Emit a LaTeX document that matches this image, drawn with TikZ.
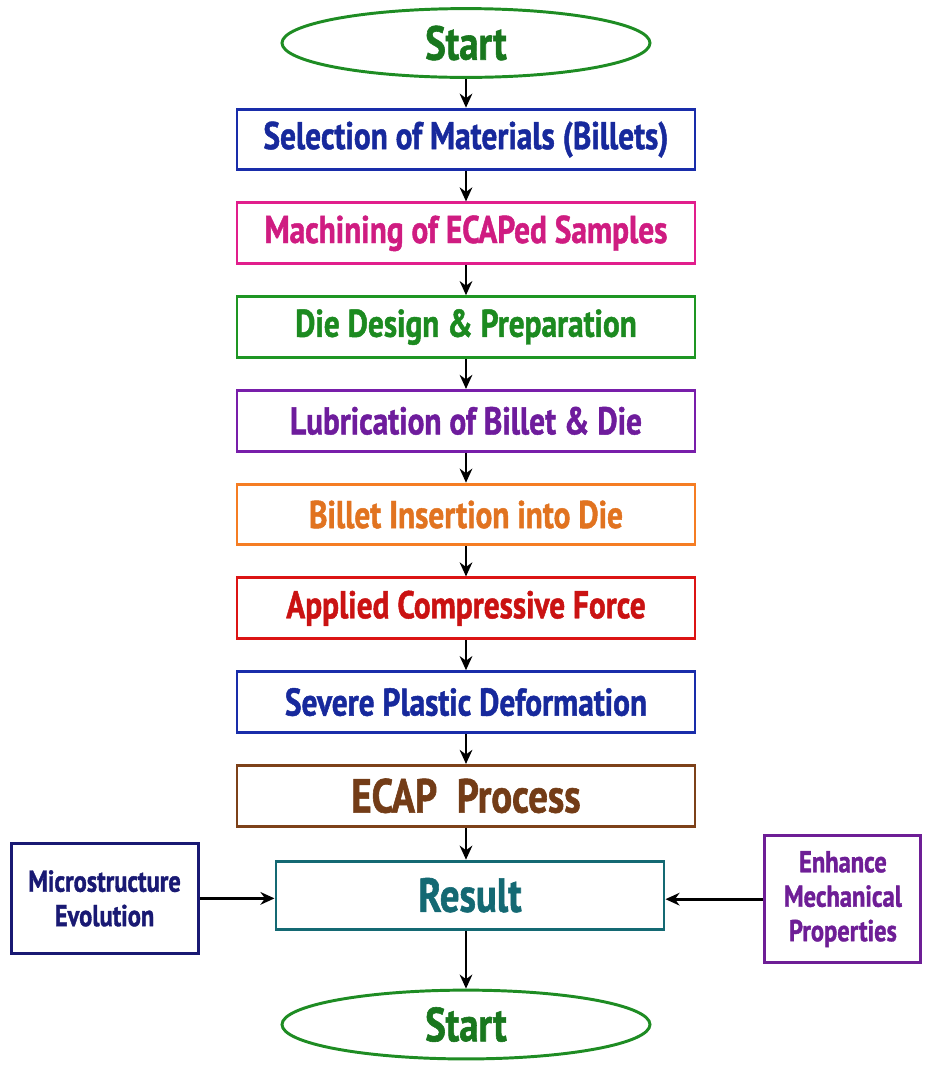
\documentclass[tikz,border=0pt]{standalone}
\usepackage{fontspec}
\setmainfont[FakeStretch=0.81,BoldFeatures={FakeBold=1.2}]{PT Sans}
\usepackage{tikz}
\usetikzlibrary{
  shapes.geometric,
  arrows.meta,
  positioning
}
\definecolor{startgreen}{RGB}{30,140,35}
\definecolor{selblue}{RGB}{25,45,170}
\definecolor{machmagenta}{RGB}{225,30,140}
\definecolor{diegreen}{RGB}{30,150,35}
\definecolor{lubpurple}{RGB}{120,30,170}
\definecolor{insorange}{RGB}{245,125,35}
\definecolor{forcered}{RGB}{220,20,20}
\definecolor{ecapbrown}{RGB}{125,65,25}
\definecolor{resteal}{RGB}{20,105,115}
\definecolor{micronavy}{RGB}{25,25,115}
\definecolor{enhpurple}{RGB}{110,30,150}
\tikzset{
  basebox/.style={rectangle,line width=2.1pt,align=center,inner sep=2pt},
  stepbox/.style={basebox,draw=#1,text=#1!92!black,minimum width=11.45cm,minimum height=1.52cm,font=\fontsize{27.5}{30}\selectfont\bfseries},
  termnode/.style={ellipse,draw=startgreen,line width=2.1pt,text=startgreen!85!black,minimum width=9.2cm,minimum height=1.72cm,font=\fontsize{34}{36}\selectfont\bfseries},
  resnode/.style={basebox,draw=resteal,text=resteal,minimum width=9.7cm,minimum height=1.7cm,font=\fontsize{34}{36}\selectfont\bfseries},
  sidenode/.style={basebox,draw=#1,text=#1,font=\fontsize{21.5}{24.5}\selectfont\bfseries},
  arr/.style={-{Stealth[length=10pt,width=9pt]},line width=1.9pt,color=black}
}

\begin{document}
\begin{tikzpicture}[node distance=0.75cm and 1.9cm]
  \useasboundingbox (0,0) rectangle (23.2,-27.125);

  %% main column
  \node[termnode] (start) at (11.65,-1.075) {Start};
  \node[stepbox=selblue,below=0.72cm of start] (select) {Selection of Materials (Billets)};
  \node[stepbox=machmagenta,below=of select] (machine) {Machining of ECAPed Samples};
  \node[stepbox=diegreen,below=of machine] (die) {Die Design \& Preparation};
  \node[stepbox=lubpurple,below=of die] (lube) {Lubrication of Billet \& Die};
  \node[stepbox=insorange,below=of lube] (insert) {Billet Insertion into Die};
  \node[stepbox=forcered,below=of insert] (force) {Applied Compressive Force};
  \node[stepbox=selblue,below=of force] (spd) {Severe Plastic Deformation};
  \node[stepbox=ecapbrown,below=of spd,font=\fontsize{34}{36}\selectfont\bfseries] (ecap) {ECAP\ \ Process};

  %% result and end
  \node[resnode,below=0.8cm of ecap,xshift=0.1cm] (result) {Result};
  \node[termnode,below=1.45cm of result,xshift=-0.1cm] (finish) {Start};

  %% side boxes
  \node[sidenode=micronavy,minimum width=4.675cm,minimum height=2.75cm,
        left=1.875cm of result,yshift=-0.08cm] (micro) {Microstructure\\Evolution};
  \node[sidenode=enhpurple,minimum width=3.9cm,minimum height=3.175cm,
        right=2.45cm of result,yshift=-0.1cm] (enhance) {Enhance\\Mechanical\\Properties};

  \draw[arr] (start) -- (select);
  \draw[arr] (select) -- (machine);
  \draw[arr] (machine) -- (die);
  \draw[arr] (die) -- (lube);
  \draw[arr] (lube) -- (insert);
  \draw[arr] (insert) -- (force);
  \draw[arr] (force) -- (spd);
  \draw[arr] (spd) -- (ecap);
  \draw[arr] (ecap.south) -- (ecap.south |- result.north);
  \draw[arr] (result.south -| finish.north) -- (finish.north);
  \draw[arr] (micro.east) -- (micro.east -| result.west);
  \draw[arr] (enhance.west) -- (enhance.west -| result.east);
\end{tikzpicture}
\end{document}
